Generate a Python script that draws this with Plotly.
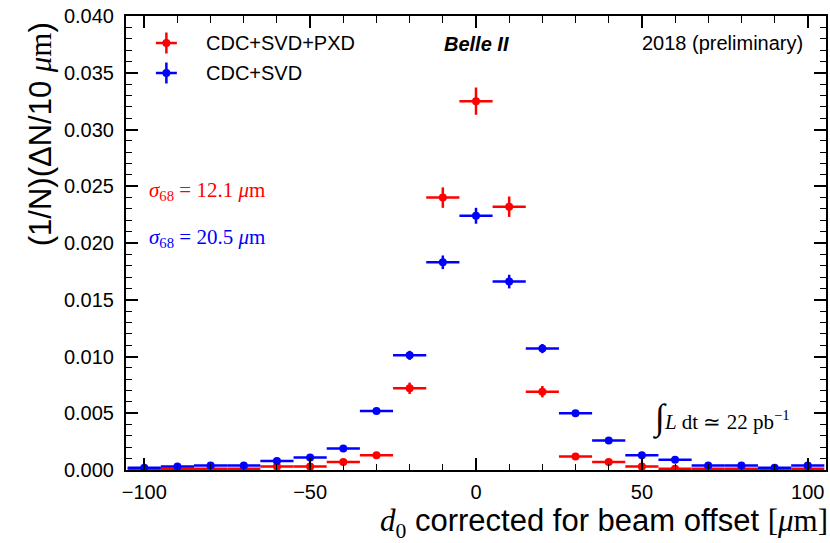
import plotly.graph_objects as go

# ---- data ----
bin_centers = [-100, -90, -80, -70, -60, -50, -40, -30, -20, -10, 0,
               10, 20, 30, 40, 50, 60, 70, 80, 90, 100]
bin_half_width = [5] * 21

red_name = "CDC+SVD+PXD"
red_vals = [0.0001, 0.0001, 0.0001, 0.0001, 0.0003, 0.0003, 0.0007, 0.0013, 0.0072, 0.0240, 0.0325,
            0.0232, 0.0069, 0.0012, 0.0007, 0.0003, 0.0001, 0.0001, 0.0001, 0.0001, 0.0001]
red_errs = [0.00005, 0.00005, 0.00005, 0.00005, 0.0001, 0.0001, 0.00015, 0.0002, 0.0005, 0.0009, 0.0012,
            0.0009, 0.0005, 0.0002, 0.00015, 0.0001, 0.00005, 0.00005, 0.00005, 0.00005, 0.00005]

blue_name = "CDC+SVD"
blue_vals = [0.0002, 0.0003, 0.0004, 0.0004, 0.0008, 0.0011, 0.0019, 0.0052, 0.0101, 0.0183, 0.0224,
             0.0166, 0.0107, 0.0050, 0.0026, 0.0013, 0.0009, 0.0004, 0.0004, 0.0002, 0.0004]
blue_errs = [0.00005, 0.00005, 0.00005, 0.00005, 0.0001, 0.0001, 0.00015, 0.0002, 0.0004, 0.0006, 0.0007,
             0.0006, 0.0004, 0.0002, 0.00015, 0.0001, 0.0001, 0.00005, 0.00005, 0.00005, 0.00005]

x_ticks = [-100, -50, 0, 50, 100]
x_ticktext = ["\u2212100", "\u221250", "0", "50", "100"]
y_ticks = [0.0, 0.005, 0.010, 0.015, 0.020, 0.025, 0.030, 0.035, 0.040]
y_ticktext = ["0.000", "0.005", "0.010", "0.015", "0.020", "0.025", "0.030", "0.035", "0.040"]

RED = "#ff0000"
BLUE = "#0000ff"
SANS = "Liberation Sans, Arial, sans-serif"
SERIF = "Liberation Serif, Times New Roman, serif"

W, H = 830, 543
ML, MR, MT, MB = 126, 2, 16, 73
PW, PH = W - ML - MR, H - MT - MB


def px(x):
    return (x - ML) / PW


def py(y):
    return (H - MB - y) / PH


fig = go.Figure()
for name, vals, errs, col in [(red_name, red_vals, red_errs, RED),
                              (blue_name, blue_vals, blue_errs, BLUE)]:
    fig.add_trace(go.Scatter(
        x=bin_centers, y=vals, mode="markers", name=name,
        marker=dict(color=col, size=8),
        error_x=dict(type="data", array=bin_half_width, color=col, thickness=2.5, width=0),
        error_y=dict(type="data", array=errs, color=col, thickness=2.5, width=0),
        showlegend=False,
    ))

axis_common = dict(
    showline=True, linecolor="black", linewidth=2, mirror="ticks",
    ticks="inside", ticklen=12, tickwidth=1.5, tickcolor="black",
    showgrid=False, zeroline=False,
    tickfont=dict(family=SANS, size=20, color="black"),
)

fig.update_xaxes(range=[-105.5, 105.5], tickvals=x_ticks, ticktext=x_ticktext,
                 minor=dict(dtick=10, ticks="inside", ticklen=6.5, tickwidth=1.2, tickcolor="black"),
                 ticklabelstandoff=3,
                 **axis_common)
fig.update_yaxes(range=[0, 0.040], tickvals=y_ticks, ticktext=y_ticktext,
                 minor=dict(dtick=0.001, ticks="inside", ticklen=6, tickwidth=1.2, tickcolor="black"),
                 ticklabelstandoff=6,
                 **axis_common)

ann = []
# axis titles
ann.append(dict(x=px(832), y=py(523), xref="paper", yref="paper", xanchor="right", yanchor="middle",
                showarrow=False, font=dict(family=SANS, size=31, color="black"),
                text=f"<span style='font-family:{SERIF}'><i>d</i><sub>0</sub></span> corrected for beam offset "
                     f"<span style='font-family:{SERIF}'>[<i>\u03bc</i>m]</span>"))
ann.append(dict(x=px(40), y=py(134), xref="paper", yref="paper", xanchor="center", yanchor="middle",
                textangle=-90, showarrow=False, font=dict(family=SANS, size=31, color="black"),
                text=f"(1/N)(\u0394N/10 <span style='font-family:{SERIF}'><i>\u03bc</i>m</span>)"))
# legend texts
ann.append(dict(x=px(204), y=py(43), xref="paper", yref="paper", xanchor="left", yanchor="middle",
                showarrow=False, font=dict(family=SANS, size=20, color="black"), text=red_name))
ann.append(dict(x=px(204), y=py(73), xref="paper", yref="paper", xanchor="left", yanchor="middle",
                showarrow=False, font=dict(family=SANS, size=20, color="black"), text=blue_name))
ann.append(dict(x=px(477), y=py(44), xref="paper", yref="paper", xanchor="center", yanchor="middle",
                showarrow=False, font=dict(family=SANS, size=20, color="black"), text="<b><i>Belle II</i></b>"))
ann.append(dict(x=px(807), y=py(43), xref="paper", yref="paper", xanchor="right", yanchor="middle",
                showarrow=False, font=dict(family=SANS, size=20, color="black"), text="2018 (preliminary)"))
ann.append(dict(x=px(147), y=py(191), xref="paper", yref="paper", xanchor="left", yanchor="middle",
                showarrow=False, font=dict(family=SERIF, size=21, color=RED),
                text="<i>\u03c3</i><sub>68</sub> = 12.1 <i>\u03bc</i>m"))
ann.append(dict(x=px(147), y=py(238), xref="paper", yref="paper", xanchor="left", yanchor="middle",
                showarrow=False, font=dict(family=SERIF, size=21, color=BLUE),
                text="<i>\u03c3</i><sub>68</sub> = 20.5 <i>\u03bc</i>m"))
ann.append(dict(x=px(652), y=py(418), xref="paper", yref="paper", xanchor="left", yanchor="middle",
                showarrow=False, font=dict(family=SERIF, size=21, color="black"),
                text="<span style='font-size:36px'>\u222b</span><i>L</i> dt \u2243 22 pb<sup>\u22121</sup>"))

# legend glyphs
shapes = []
for yy, col in [(43, RED), (73, BLUE)]:
    shapes.append(dict(type="line", xref="paper", yref="paper", x0=px(156), x1=px(177), y0=py(yy), y1=py(yy),
                       line=dict(color=col, width=2.5)))
    shapes.append(dict(type="line", xref="paper", yref="paper", x0=px(166.5), x1=px(166.5),
                       y0=py(yy - 10.5), y1=py(yy + 10.5), line=dict(color=col, width=2.5)))
    shapes.append(dict(type="circle", xref="paper", yref="paper", xsizemode="pixel", ysizemode="pixel",
                       xanchor=px(166.5), yanchor=py(yy), x0=-4, x1=4, y0=-4, y1=4,
                       fillcolor=col, line=dict(color=col, width=0)))

fig.update_layout(
    width=W, height=H, margin=dict(l=ML, r=MR, t=MT, b=MB, pad=0),
    plot_bgcolor="white", paper_bgcolor="white",
    annotations=ann, shapes=shapes, showlegend=False,
)

fig.write_html("out.html", config={"displayModeBar": False},
               post_script="document.body.style.margin='0';document.body.style.overflow='hidden';")
